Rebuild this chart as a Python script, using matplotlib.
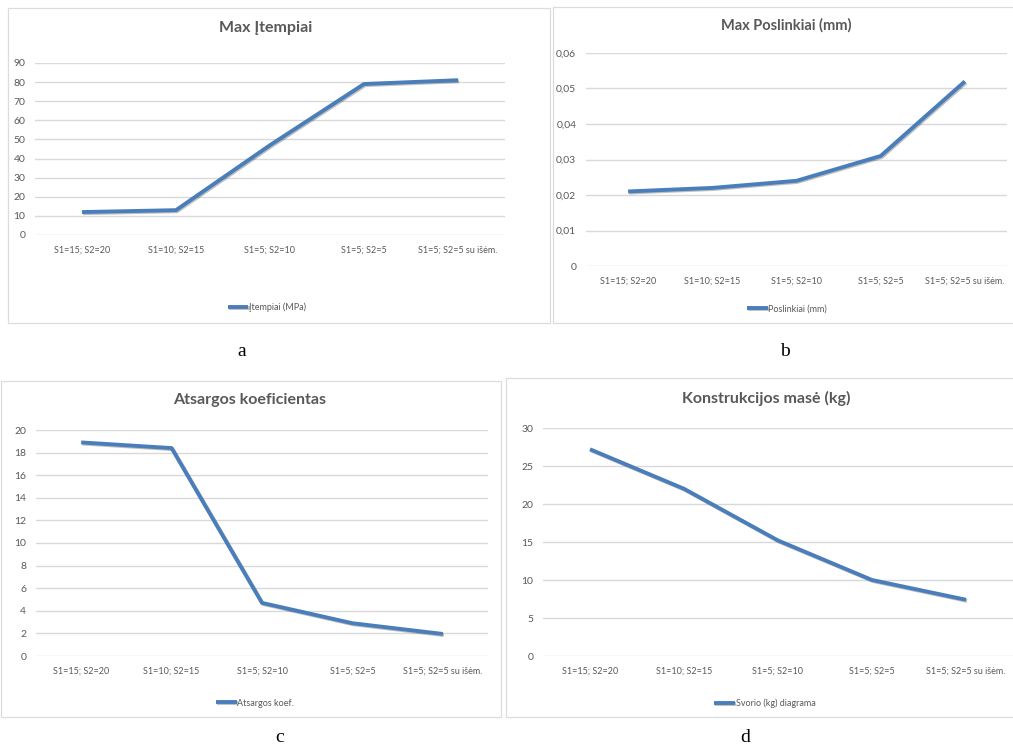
import matplotlib.pyplot as plt
import matplotlib.patheffects as pe
from matplotlib.patches import Rectangle
from matplotlib.ticker import FuncFormatter

plt.rcParams['font.family'] = ['Lato', 'DejaVu Sans']

categories = ['S1=15; S2=20', 'S1=10; S2=15', 'S1=5; S2=10', 'S1=5; S2=5', 'S1=5; S2=5 su išėm.']

itempiai = [12, 13, 47, 79, 81]
poslinkiai = [0.021, 0.022, 0.024, 0.031, 0.052]
atsargos = [18.9, 18.4, 4.7, 2.9, 1.95]
mase = [27.2, 22.0, 15.2, 10.0, 7.4]

W, H = 1013, 753
fig = plt.figure(figsize=(W / 100, H / 100), dpi=100)
fig.patch.set_facecolor('white')

LINE = '#4A7EBB'
GRID = '#D9D9D9'
TXT = '#595959'


def rect(l, t, r, b):
    # pixel box -> figure fraction
    return [l / W, 1 - b / H, (r - l) / W, (b - t) / H]


def border(l, t, r, b):
    fig.patches.append(Rectangle((l / W, 1 - b / H), (r - l) / W, (b - t) / H,
                                 transform=fig.transFigure, fill=False,
                                 edgecolor='#DCDCDC', lw=0.9))


def panel(box, vals, ymax, step, title, tsize, tpos, label, lpos, fmt=None, lab='a', labpos=None):
    ax = fig.add_axes(rect(*box))
    ax.plot(range(len(vals)), vals, color=LINE, lw=2.8, solid_capstyle='butt',
            label=label,
            path_effects=[pe.SimpleLineShadow(offset=(0.8, -0.8), alpha=0.25),
                          pe.Normal()])
    ax.set_xlim(-0.5, len(vals) - 0.5)
    ax.set_ylim(0, ymax)
    n = int(round(ymax / step))
    ax.set_yticks([i * step for i in range(n + 1)])
    ax.set_xticks(range(len(categories)))
    ax.set_xticklabels(categories)
    if fmt:
        ax.yaxis.set_major_formatter(FuncFormatter(fmt))
    ax.grid(axis='y', color=GRID, lw=1)
    ax.set_axisbelow(True)
    for s in ax.spines.values():
        s.set_visible(False)
    ax.tick_params(length=0, colors=TXT, labelsize=6.5)
    ax.tick_params(axis='y', pad=7, labelsize=7.5)
    ax.tick_params(axis='x', pad=8)
    fig.text(tpos[0] / W, 1 - tpos[1] / H, title, ha='center', va='center',
             fontsize=tsize, fontweight='bold', color=TXT)
    ax.legend(loc='center', bbox_to_anchor=(lpos[0] / W, 1 - lpos[1] / H),
              bbox_transform=fig.transFigure, frameon=False, fontsize=6.5,
              handlelength=2.3, handletextpad=0.1, labelcolor=TXT)
    fig.text(labpos[0] / W, 1 - labpos[1] / H, lab, ha='center', va='center',
             fontsize=14, family='Liberation Serif', color='black')
    return ax


border(8, 8, 550, 323)
border(553, 7, 1020, 323)
border(1, 381, 501, 717)
border(506, 378, 1020, 717)

panel((35, 63, 505, 235), itempiai, 90, 10, 'Max Įtempiai', 11.5, (266, 28),
      'Įtempiai (MPa)', (267, 307), lab='a', labpos=(242, 352))
panel((586, 53, 1007, 266), poslinkiai, 0.06, 0.01, 'Max Poslinkiai (mm)', 10.5, (786, 25),
      'Poslinkiai (mm)', (787, 309),
      fmt=lambda v, p: '0' if abs(v) < 1e-9 else ('%.2f' % v).replace('.', ','),
      lab='b', labpos=(785, 352))
panel((36, 430, 488, 656), atsargos, 20, 2, 'Atsargos koeficientas', 11.5, (250, 400),
      'Atsargos koef.', (255, 703), lab='c', labpos=(280, 737))
panel((543, 428, 1013, 656), mase, 30, 5, 'Konstrukcijos masė (kg)', 11.5, (766, 398),
      'Svorio (kg) diagrama', (765, 703), lab='d', labpos=(745, 737))

fig.savefig('out.png', dpi=100)
